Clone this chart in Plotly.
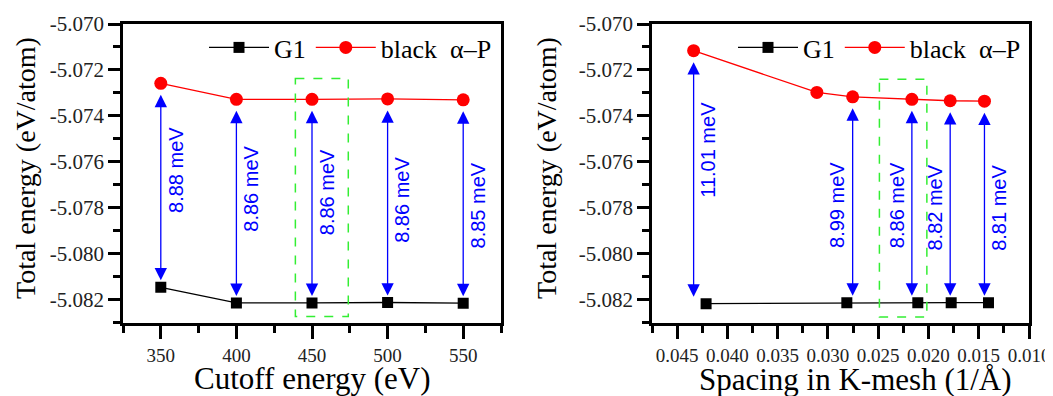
import plotly.graph_objects as go

# ---------------- data ----------------
CUTOFF_EV = [350, 400, 450, 500, 550]
CUTOFF_G1 = [-5.08146, -5.08214, -5.08214, -5.08212, -5.08215]
CUTOFF_BP = [-5.07258, -5.07328, -5.07328, -5.07326, -5.07330]
CUTOFF_DIFF_TEXT = ["8.88 meV", "8.86 meV", "8.86 meV", "8.86 meV", "8.85 meV"]
CUTOFF_LABEL_Y = [-5.07636, -5.07715, -5.07732, -5.07767, -5.07789]
CUTOFF_LABEL_SIDE = [1, 1, 1, 1, 1]

KMESH_G1_X = [0.04212, 0.02812, 0.02106, 0.01774, 0.01403]
KMESH_G1 = [-5.08217, -5.08213, -5.08213, -5.08213, -5.08213]
KMESH_BP_X = [0.04336, 0.03110, 0.02754, 0.02165, 0.01784, 0.01443]
KMESH_BP = [-5.07116, -5.07298, -5.07317, -5.07328, -5.07334, -5.07336]
KMESH_PAIRS = [(0, 0), (2, 1), (3, 2), (4, 3), (5, 4)]  # (BP index, G1 index)
KMESH_DIFF_TEXT = ["11.01 meV", "8.99 meV", "8.86 meV", "8.82 meV", "8.81 meV"]
KMESH_LABEL_Y = [-5.07549, -5.07789, -5.07789, -5.07798, -5.07798]
KMESH_LABEL_SIDE = [1, -1, -1, -1, 1]

# highlighted (chosen) settings: [x0, x1, y0, y1]
CUTOFF_BOX = [439, 474, -5.07237, -5.08273]
KMESH_BOX = [0.02488, 0.02016, -5.07240, -5.08275]

Y_TICK_VALS = [-5.082, -5.080, -5.078, -5.076, -5.074, -5.072, -5.070]
Y_TICK_TEXT = ["-5.082", "-5.080", "-5.078", "-5.076", "-5.074", "-5.072", "-5.070"]
CUTOFF_TICKS = [350, 400, 450, 500, 550]
KMESH_TICKS = [0.045, 0.040, 0.035, 0.030, 0.025, 0.020, 0.015, 0.010]
KMESH_TICK_TEXT = ["0.045", "0.040", "0.035", "0.030", "0.025", "0.020", "0.015", "0.010"]

SERIF = "Liberation Serif"
SANS = "Liberation Sans"
BLUE = "#0000ff"
RED = "#ff0000"

# page body has an 8 px margin; the figure is sized to fill the rest of the window
W, H, OFF = 1045, 388, 8


def fx(px):
    return (px - OFF) / W


def fy(py):
    return 1 - (py - OFF) / H


fig = go.Figure()

fig.add_trace(go.Scatter(x=CUTOFF_EV, y=CUTOFF_G1, name="G1", mode="lines+markers",
                         line=dict(color="black", width=1.3),
                         marker=dict(symbol="square", size=11, color="black"),
                         xaxis="x", yaxis="y", legend="legend"))
fig.add_trace(go.Scatter(x=CUTOFF_EV, y=CUTOFF_BP, name="black  \u03b1\u2013P", mode="lines+markers",
                         line=dict(color=RED, width=1.3),
                         marker=dict(symbol="circle", size=13, color=RED),
                         xaxis="x", yaxis="y", legend="legend"))
fig.add_trace(go.Scatter(x=KMESH_G1_X, y=KMESH_G1, name="G1", mode="lines+markers",
                         line=dict(color="black", width=1.3),
                         marker=dict(symbol="square", size=11, color="black"),
                         xaxis="x2", yaxis="y2", legend="legend2"))
fig.add_trace(go.Scatter(x=KMESH_BP_X, y=KMESH_BP, name="black  \u03b1\u2013P", mode="lines+markers",
                         line=dict(color=RED, width=1.3),
                         marker=dict(symbol="circle", size=13, color=RED),
                         xaxis="x2", yaxis="y2", legend="legend2"))

annotations = []


def add_arrow(xv, y_top, y_bot, xr, yr, text, label_y, side):
    annotations.append(dict(
        x=xv, y=y_bot, ax=xv, ay=y_top, xref=xr, yref=yr, axref=xr, ayref=yr,
        text="", showarrow=True, arrowhead=2, startarrowhead=2, arrowside="end+start",
        arrowsize=1.9, startarrowsize=1.9, arrowwidth=1.3, arrowcolor=BLUE,
        standoff=7, startstandoff=10))
    annotations.append(dict(
        x=xv, y=label_y, xref=xr, yref=yr, text=text, showarrow=False, textangle=-90,
        xshift=15 * side, font=dict(family=SANS, size=20, color=BLUE)))


for i, xv in enumerate(CUTOFF_EV):
    add_arrow(xv, CUTOFF_BP[i], CUTOFF_G1[i], "x", "y", CUTOFF_DIFF_TEXT[i],
              CUTOFF_LABEL_Y[i], CUTOFF_LABEL_SIDE[i])
for k, (bi, gi) in enumerate(KMESH_PAIRS):
    add_arrow(KMESH_BP_X[bi], KMESH_BP[bi], KMESH_G1[gi], "x2", "y2", KMESH_DIFF_TEXT[k],
              KMESH_LABEL_Y[k], KMESH_LABEL_SIDE[k])

title_font = dict(family=SERIF, size=31, color="black")
ytitle_font = dict(family=SERIF, size=28, color="black")
annotations += [
    dict(x=fx(312), y=fy(378), xref="paper", yref="paper", text="Cutoff energy (eV)",
         showarrow=False, font=title_font, xanchor="center", yanchor="middle"),
    dict(x=fx(855), y=fy(379), xref="paper", yref="paper", text="Spacing in K-mesh (1/\u00c5)",
         showarrow=False, font=title_font, xanchor="center", yanchor="middle"),
    dict(x=fx(25), y=fy(168), xref="paper", yref="paper", text="Total energy (eV/atom)",
         showarrow=False, font=ytitle_font, textangle=-90, xanchor="center", yanchor="middle"),
    dict(x=fx(546), y=fy(168), xref="paper", yref="paper", text="Total energy (eV/atom)",
         showarrow=False, font=ytitle_font, textangle=-90, xanchor="center", yanchor="middle"),
]

shapes = [
    dict(type="rect", xref="x", yref="y", x0=CUTOFF_BOX[0], x1=CUTOFF_BOX[1],
         y0=CUTOFF_BOX[2], y1=CUTOFF_BOX[3], line=dict(color="#33ee33", width=1.5, dash="dash")),
    dict(type="rect", xref="x2", yref="y2", x0=KMESH_BOX[0], x1=KMESH_BOX[1],
         y0=KMESH_BOX[2], y1=KMESH_BOX[3], line=dict(color="#33ee33", width=1.5, dash="dash")),
]

X_TICK_FONT = dict(family=SERIF, size=19, color="#222222")
Y_TICK_FONT = dict(family=SERIF, size=21, color="#222222")
axis_common = dict(showline=True, linecolor="black", linewidth=2.5, mirror=True,
                   showgrid=False, zeroline=False, ticks="outside", tickwidth=2.5,
                   tickcolor="black", automargin=False)

ydom = [fy(322.7), fy(24)]
yaxis_cfg = dict(range=[-5.083, -5.070], tickmode="array", tickvals=Y_TICK_VALS,
                 ticktext=Y_TICK_TEXT, ticklen=12, tickfont=Y_TICK_FONT,
                 minor=dict(dtick=0.001, tick0=-5.070, ticks="outside", ticklen=7,
                            tickwidth=2.5, tickcolor="black"),
                 domain=ydom, **axis_common)

legend_common = dict(orientation="h", bgcolor="rgba(0,0,0,0)", yanchor="top", xanchor="right",
                     font=dict(family=SERIF, size=26, color="black"), itemwidth=60,
                     tracegroupgap=0)

fig.update_layout(
    width=W, height=H, margin=dict(l=0, r=0, t=0, b=0, autoexpand=False),
    paper_bgcolor="white", plot_bgcolor="white",
    xaxis=dict(domain=[fx(123), fx(501)], range=[325, 575], tickmode="array",
               tickvals=CUTOFF_TICKS, ticktext=[str(v) for v in CUTOFF_TICKS],
               ticklen=14, anchor="y", tickfont=X_TICK_FONT, tickangle=0,
               minor=dict(dtick=25, tick0=325, ticks="outside", ticklen=8, tickwidth=2.5,
                          tickcolor="black"),
               **axis_common),
    yaxis=dict(anchor="x", **yaxis_cfg),
    xaxis2=dict(domain=[fx(652), fx(1029)], range=[0.0475, 0.010], tickmode="array",
                tickvals=KMESH_TICKS, ticktext=KMESH_TICK_TEXT, ticklen=14, anchor="y2",
                tickfont=X_TICK_FONT, tickangle=0,
                minor=dict(dtick=0.0025, tick0=0.010, ticks="outside", ticklen=8, tickwidth=2.5,
                           tickcolor="black"),
                **axis_common),
    yaxis2=dict(anchor="x2", **yaxis_cfg),
    legend=dict(x=fx(497), y=fy(24), **legend_common),
    legend2=dict(x=fx(1026), y=fy(24), **legend_common),
    annotations=annotations,
    shapes=shapes,
    showlegend=True,
)

fig.write_html("out.html")
